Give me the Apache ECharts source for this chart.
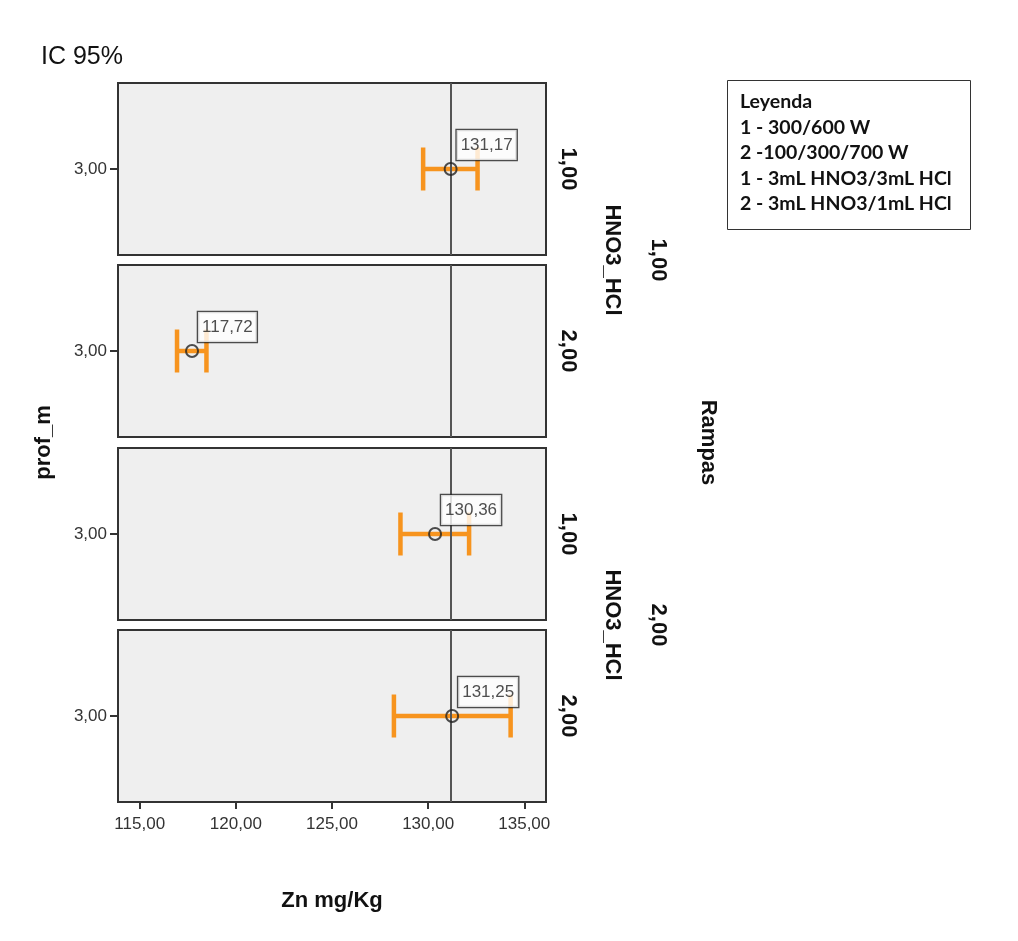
<!DOCTYPE html>
<html>
<head>
<meta charset="utf-8">
<script src="https://cdn.jsdelivr.net/npm/echarts@6/dist/echarts.min.js"></script>
<style>html,body{margin:0;padding:0;background:#fff;}#c{width:1018px;height:941px;}</style>
</head>
<body>
<div id="c"></div>
<script>
// ---- data ----
const yCategories = ['3,00'];
const panelHNO3 = ['1,00', '2,00', '1,00', '2,00'];
const rampasGroups = ['1,00', '2,00'];
const means = [131.17, 117.72, 130.36, 131.25];
const ciLow = [129.74, 116.94, 128.56, 128.22];
const ciHigh = [132.57, 118.47, 132.13, 134.29];
const referenceValue = 131.16;
const xTicks = [115, 120, 125, 130, 135];
const xMin = 113.87, xMax = 136.13;
const legendLines = ['Leyenda', '1 - 300/600 W', '2 -100/300/700 W', '1 - 3mL HNO3/3mL HCl', '2 - 3mL HNO3/1mL HCl'];

// ---- layout ----
const FF = "'Liberation Sans', Arial, sans-serif";
const L = 118, R = 546, tops = [83, 265, 448, 630], H = 172;
const orange = '#f7941e';
const fmt = v => v.toFixed(2).replace('.', ',');

const grids = [], xAxes = [], yAxes = [], series = [];
for (let i = 0; i < 4; i++) {
  const last = i === 3;
  grids.push({left: L, width: R - L, top: tops[i], height: H, show: true,
    backgroundColor: '#efefef', borderColor: '#333', borderWidth: 2, containLabel: false});
  xAxes.push({type: 'value', gridIndex: i, min: xMin, max: xMax,
    axisLine: {show: false}, splitLine: {show: false},
    axisTick: {show: last, length: 7, lineStyle: {color: '#333', width: 2}, customValues: xTicks},
    axisLabel: {show: last, customValues: xTicks, formatter: fmt, color: '#333', fontSize: 17,
      fontFamily: FF, margin: 14},
    name: last ? 'Zn mg/Kg' : '', nameLocation: 'middle', nameGap: 88,
    nameTextStyle: {fontSize: 22, fontWeight: 'bold', color: '#111', fontFamily: FF}
  });
  yAxes.push({type: 'category', gridIndex: i, data: yCategories,
    axisLine: {show: false},
    axisTick: {show: true, alignWithLabel: true, length: 8, lineStyle: {color: '#333', width: 2}},
    axisLabel: {color: '#333', fontSize: 17, margin: 11, fontFamily: FF}
  });
  series.push({
    type: 'custom', xAxisIndex: i, yAxisIndex: i, z: 3,
    data: [[ciLow[i], ciHigh[i], 0]],
    encode: {x: [0, 1], y: 2},
    renderItem: (params, api) => {
      const lo = api.coord([api.value(0), api.value(2)]);
      const hi = api.coord([api.value(1), api.value(2)]);
      const h = 21.5, st = {stroke: orange, lineWidth: 4.5};
      return {type: 'group', children: [
        {type: 'line', shape: {x1: lo[0], y1: lo[1], x2: hi[0], y2: hi[1]}, style: st},
        {type: 'line', shape: {x1: lo[0], y1: lo[1] - h, x2: lo[0], y2: lo[1] + h}, style: st},
        {type: 'line', shape: {x1: hi[0], y1: hi[1] - h, x2: hi[0], y2: hi[1] + h}, style: st}
      ]};
    }
  });
  series.push({
    type: 'scatter', xAxisIndex: i, yAxisIndex: i, z: 5,
    data: [[means[i], 0]],
    symbol: 'circle', symbolSize: 12,
    itemStyle: {color: 'rgba(0,0,0,0)', borderColor: '#222', borderWidth: 2},
    label: {show: true, position: [13, -32], align: 'left', verticalAlign: 'top',
      formatter: p => fmt(p.value[0]), fontSize: 17, color: '#222',
      fontFamily: FF,
      backgroundColor: '#fff', borderColor: '#222', borderWidth: 1.3, padding: [5, 4], lineHeight: 20},
    markLine: {silent: true, symbol: ['none', 'none'], label: {show: false},
      lineStyle: {color: '#555', width: 2, type: 'solid'},
      data: [{xAxis: referenceValue}]}
  });
}

const bold = (txt, x, y, rot, size) => ({type: 'text', x: x, y: y, rotation: rot,
  style: {text: txt, fontSize: size || 22, fontWeight: 'bold', fill: '#111',
    fontFamily: FF, align: 'center', verticalAlign: 'middle'}});

const graphics = [];
for (let i = 0; i < 4; i++) graphics.push(bold(panelHNO3[i], 568, tops[i] + H / 2, -Math.PI / 2));
for (let g = 0; g < 2; g++) {
  const c = (tops[2 * g] + tops[2 * g + 1] + H) / 2;
  graphics.push(bold('HNO3_HCl', 612, c, -Math.PI / 2));
  graphics.push(bold(rampasGroups[g], 658, c, -Math.PI / 2));
}
graphics.push(bold('Rampas', 708, (tops[0] + tops[3] + H) / 2, -Math.PI / 2));
graphics.push(bold('prof_m', 44, (tops[0] + tops[3] + H) / 2, Math.PI / 2));
graphics.push({type: 'rect', shape: {x: 727.5, y: 80.5, width: 243, height: 149},
  style: {fill: '#fff', stroke: '#333', lineWidth: 1}});
legendLines.forEach((t, k) => graphics.push({type: 'text', x: 740, y: 102 + k * 25.5,
  style: {text: t, fontSize: 19.5, fontWeight: 'bold', fill: '#111', fontFamily: 'Lato, sans-serif',
    align: 'left', verticalAlign: 'middle'}}));

const chart = echarts.init(document.getElementById('c'), null, {renderer: 'canvas'});
chart.setOption({
  animation: false,
  backgroundColor: '#fff',
  title: {text: 'IC 95%', left: 36, top: 40,
    textStyle: {fontSize: 25, fontWeight: 'normal', color: '#111', fontFamily: FF}},
  grid: grids, xAxis: xAxes, yAxis: yAxes, series: series, graphic: graphics
});
</script>
</body>
</html>
